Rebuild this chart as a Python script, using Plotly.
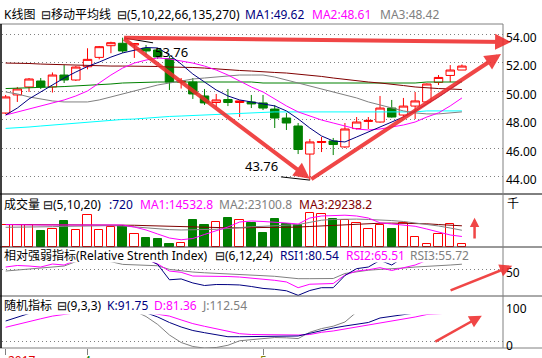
import plotly.graph_objects as go

W, H = 542, 358

# ---------------- data ----------------
bar_index = list(range(40))
open_price = [48.47, 49.74, 50.30, 50.72, 50.30, 51.14, 50.79, 51.72, 52.38, 53.20,
              53.37, 53.25, 53.02, 52.90, 52.30, 50.65, 50.65, 49.67, 49.21, 49.42,
              49.21, 49.25, 49.18, 48.75, 48.12, 47.56, 45.59, 46.40, 46.51, 46.09,
              47.38, 47.88, 47.84, 48.82, 48.33, 48.96, 49.25, 50.62, 51.11, 51.49]
high_price = [49.74, 50.30, 50.93, 50.93, 51.32, 51.84, 51.77, 53.02, 53.18, 53.48,
              53.76, 53.39, 53.25, 53.04, 52.48, 50.93, 50.93, 50.16, 49.81, 50.16,
              49.35, 49.74, 49.74, 49.03, 48.47, 47.77, 46.65, 46.79, 46.72, 47.77,
              48.19, 48.19, 49.67, 49.39, 49.53, 49.95, 50.55, 51.14, 51.84, 51.88]
low_price = [48.40, 49.25, 49.95, 50.16, 49.91, 50.58, 50.72, 51.54, 52.24, 52.67,
             52.69, 52.34, 52.55, 52.27, 50.09, 50.19, 49.46, 49.04, 48.89, 48.96,
             48.19, 48.82, 48.68, 47.42, 47.28, 45.59, 43.76, 45.73, 45.52, 46.02,
             47.31, 47.35, 47.80, 48.15, 48.16, 48.05, 49.22, 50.44, 50.65, 51.49]
close_price = [49.60, 50.16, 50.86, 50.30, 51.14, 50.79, 51.70, 52.24, 53.13, 53.41,
               52.83, 53.35, 52.83, 52.41, 50.65, 50.72, 49.81, 49.18, 49.39, 49.21,
               49.32, 49.11, 48.82, 48.12, 47.77, 45.91, 46.44, 46.47, 46.26, 47.35,
               47.84, 47.95, 48.82, 48.19, 48.96, 49.32, 50.51, 50.97, 51.49, 51.77]

ma5 = [48.33, 48.82, 49.46, 49.95, 50.44, 50.93, 51.35, 51.74, 52.05, 52.40,
       52.69, 52.90, 53.07, 53.04, 52.55, 51.91, 51.21, 50.65, 50.09, 49.67,
       49.39, 49.25, 49.11, 48.97, 48.62, 48.06, 47.42, 46.86, 46.51, 46.44,
       46.79, 47.14, 47.49, 47.84, 48.19, 48.62, 49.11, 49.60, 50.16, 50.72]
ma10 = [48.33, 48.55, 48.76, 48.97, 49.18, 49.39, 49.67, 50.02, 50.58, 51.14,
        51.63, 51.98, 52.19, 52.34, 52.27, 52.12, 51.98, 51.77, 51.49, 51.14,
        50.72, 50.30, 49.95, 49.46, 48.97, 48.55, 48.26, 47.98, 47.77, 47.56,
        47.35, 47.28, 47.35, 47.49, 47.63, 47.84, 48.19, 48.48, 48.97, 49.53]
ma22 = [49.95, 49.81, 49.60, 49.46, 49.32, 49.25, 49.25, 49.25, 49.39, 49.60,
        49.81, 50.02, 50.23, 50.44, 50.58, 50.72, 50.86, 50.93, 51.00, 51.07,
        51.14, 51.14, 51.14, 51.00, 50.79, 50.58, 50.37, 50.16, 49.95, 49.74,
        49.53, 49.25, 49.04, 48.83, 48.62, 48.48, 48.41, 48.41, 48.48, 48.55]
ma66 = [51.98, 51.98, 51.95, 51.91, 51.88, 51.84, 51.84, 51.81, 51.77, 51.77,
        51.77, 51.77, 51.74, 51.74, 51.70, 51.70, 51.67, 51.63, 51.56, 51.49,
        51.46, 51.42, 51.35, 51.32, 51.28, 51.21, 51.14, 51.04, 50.93, 50.83,
        50.72, 50.65, 50.58, 50.51, 50.40, 50.30, 50.23, 50.19, 50.16, 50.12]
ma135 = [50.19, 50.23, 50.23, 50.26, 50.30, 50.33, 50.37, 50.40, 50.44, 50.51,
         50.58, 50.62, 50.65, 50.65, 50.65, 50.65, 50.65, 50.65, 50.65, 50.65,
         50.65, 50.65, 50.58, 50.58, 50.58, 50.58, 50.58, 50.58, 50.58, 50.58,
         50.58, 50.58, 50.58, 50.58, 50.58, 50.58, 50.65, 50.65, 50.65, 50.65]
ma270 = [47.39, 47.42, 47.49, 47.56, 47.63, 47.70, 47.77, 47.84, 47.91, 47.98,
         48.02, 48.05, 48.12, 48.19, 48.23, 48.26, 48.30, 48.33, 48.37, 48.41,
         48.44, 48.48, 48.51, 48.55, 48.55, 48.55, 48.55, 48.55, 48.55, 48.55,
         48.55, 48.55, 48.55, 48.55, 48.55, 48.55, 48.62, 48.62, 48.62, 48.62]

volume = [30900, 30400, 30000, 21400, 25200, 35700, 23700, 44300, 23700, 27200,
          29500, 18100, 12800, 10500, 4700, 6000, 37100, 30000, 34300, 40400,
          36700, 33400, 19000, 38100, 32400, 30000, 47600, 45300, 38100, 36700,
          33400, 25200, 30900, 25200, 33400, 14200, 3700, 18600, 32400, 3700]
vol_ma5 = [30900, 30400, 30400, 30400, 30400, 30400, 30400, 30900, 30900, 30900,
           30400, 27600, 23500, 17900, 12400, 10000, 11700, 17300, 22100, 27600,
           34500, 35900, 35200, 34500, 33100, 31700, 40000, 42800, 43500, 43900,
           42800, 40000, 33400, 31700, 30400, 28600, 24800, 20700, 16600, 14533]
vol_ma10 = [27200, 27200, 27500, 27500, 28000, 28500, 29000, 29500, 29500, 29500,
            29000, 27500, 26000, 25000, 24000, 23500, 23500, 24000, 24500, 25500,
            27000, 28000, 28500, 29000, 30000, 31000, 34000, 37000, 38000, 38500,
            38500, 38000, 37500, 36500, 35200, 33400, 30900, 29000, 26200, 23101]
vol_ma20 = [31000, 31000, 31000, 31000, 31000, 30800, 30700, 30600, 30500, 30400,
            30200, 30000, 29500, 29000, 28500, 27800, 27200, 26800, 26500, 26500,
            26500, 26500, 26500, 26700, 27000, 27500, 28300, 29200, 30200, 31000,
            31800, 32400, 32800, 33000, 33000, 32800, 32000, 31000, 30100, 29238]

rsi1 = [70, 72, 74, 70, 72, 68, 72, 76, 78, 78, 72, 70, 62, 55.4, 38.6, 39.5, 35.1, 32.3,
        33.4, 33.3, 32.9, 31.2, 29.1, 28.1, 26.5, 21.5, 26.8, 29.9, 29.9, 43.3, 50.8,
        52.6, 60, 54.8, 65, 72, 80, 82, 83, 80.54]
rsi2 = [52.6, 54.3, 53.7, 52.6, 55.9, 54.8, 60, 63, 66, 67, 65, 64, 61, 55.9, 48.2, 46.8,
        42.7, 42.7, 42.7, 42.2, 41.6, 40.5, 39.5, 38.0, 36.2, 29.9, 33.7, 34.0, 34.5,
        43.8, 48.2, 49.6, 51.9, 48.8, 51.5, 54.8, 60, 63, 64, 65.51]
rsi3 = [48.2, 49.3, 51.0, 52.1, 53.2, 53.7, 58.5, 59.5, 59.5, 58.5, 55.5, 55, 55, 54,
        50, 48.2, 47.1, 46.3, 45.5, 44.9, 44.4, 43.6, 43.1, 42.4, 41.1, 39.8, 39.8,
        39.8, 40, 45.5, 47.7, 49.1, 50, 50.4, 51.5, 52.6, 53.2, 53.7, 54.8, 55.72]

kdj_k = [57.3, 66.9, 78, 80, 85, 82, 85, 88, 90, 92, 88, 85, 80, 68.3, 53.2, 40.8, 31.1,
         25.1, 20.1, 14, 14, 14.6, 16, 16.8, 16.5, 16, 23.4, 31.1, 38, 43.5, 48.5,
         53.2, 65.6, 71.1, 76.6, 80, 84, 88, 90, 91.75]
kdj_d = [39.9, 48.2, 55.6, 63.4, 70.8, 76, 80, 82, 84, 85, 86, 85, 82, 76, 70.8, 60.3,
         50.1, 42.7, 35.3, 28.4, 22.3, 20.1, 19.3, 18.7, 18.7, 18.7, 20.1, 26.2, 29.8,
         35.3, 40.2, 45.5, 50.4, 55.9, 61.4, 68.3, 75.2, 77, 79, 81.36]
kdj_j = [92, 95, 100, 100, 105, 100, 100, 105, 105, 108, 95, 85, 69.7, 47.7, 18.7, -1.9,
         -12.9, -17.4, -15.7, -9.6, 2.8, 6.3, 9.4, 11.8, 11, 8.8, 26.4, 36.4, 43, 54.5,
         82, 85, 90, 98, 100, 103, 105, 110, 112, 112.54]

price_ticks = [54, 52, 50, 48, 46, 44]
date_tick_index = [0, 7, 22]
date_tick_text = ["2017", "4", "5"]
date_tick_color = ["#e00000", "#008000", "#808000"]

high_value, high_index = 53.76, 10
low_value, low_index = 43.76, 26

# hand-drawn red arrows: (tail x, tail y, head x, head y) in axis units
arrows_main = [(10, 53.76, 43.2, 53.46), (10, 53.76, 26, 43.85), (26, 43.76, 42.34, 52.62)]
arrow_volume = (40.08, 9660, 40.08, 40400)
arrow_rsi = (37.9, 26.3, 43.3, 54.0)
arrow_kdj = (36.6, -1.9, 40.7, 72.0)

# ---------------- geometry ----------------
X_RANGE = [-0.31, 42.51]
XDOM = [2 / W, 503 / W]
PANELS = {  # top px, bottom px, value at bottom, value at top
    "y": (24, 194, 42.785, 54.723),
    "y2": (194, 247, 0, 73140),
    "y3": (262.5, 296, 20.77, 57.58),
    "y4": (314.5, 348, -17.08, 75.2),
}


def dom(name):
    top, bot, _, _ = PANELS[name]
    return [1 - bot / H, 1 - top / H]


def paper_y(name, v):
    top, bot, lo, hi = PANELS[name]
    ypx = bot - (v - lo) / (hi - lo) * (bot - top)
    return 1 - ypx / H


FONT = "Noto Sans, Noto Sans CJK SC, sans-serif"
NAVY, MAG, GRAY, MAROON, GREEN, CYAN = "#000080", "#ff00ff", "#808080", "#800000", "#008000", "#00ffff"
ARROW_RED = "rgba(238,45,45,0.88)"

fig = go.Figure()

fig.add_trace(go.Candlestick(
    x=bar_index, open=open_price, high=high_price, low=low_price, close=close_price,
    increasing=dict(line=dict(color="#ff0000", width=1), fillcolor="#ffffff"),
    decreasing=dict(line=dict(color=GREEN, width=1), fillcolor=GREEN),
    whiskerwidth=0, xaxis="x", yaxis="y", hoverinfo="skip"))

for series, col in [(ma270, CYAN), (ma135, GREEN), (ma66, MAROON), (ma22, GRAY), (ma10, MAG), (ma5, NAVY)]:
    fig.add_trace(go.Scatter(x=bar_index, y=series, mode="lines", line=dict(color=col, width=1),
                             xaxis="x", yaxis="y", hoverinfo="skip"))

up = [c >= o for o, c in zip(open_price, close_price)]
fig.add_trace(go.Bar(
    x=bar_index, y=volume, width=0.72,
    marker=dict(color=["#ffffff" if u else GREEN for u in up],
                line=dict(color=["#ff0000" if u else GREEN for u in up], width=1)),
    xaxis="x2", yaxis="y2", hoverinfo="skip"))
for series, col in [(vol_ma20, MAROON), (vol_ma10, GRAY), (vol_ma5, MAG)]:
    fig.add_trace(go.Scatter(x=bar_index, y=series, mode="lines", line=dict(color=col, width=1),
                             xaxis="x2", yaxis="y2", hoverinfo="skip"))

for series, col in [(rsi3, GRAY), (rsi2, MAG), (rsi1, NAVY)]:
    fig.add_trace(go.Scatter(x=bar_index, y=series, mode="lines", line=dict(color=col, width=1),
                             xaxis="x3", yaxis="y3", hoverinfo="skip"))

for series, col in [(kdj_j, GRAY), (kdj_d, MAG), (kdj_k, NAVY)]:
    fig.add_trace(go.Scatter(x=bar_index, y=series, mode="lines", line=dict(color=col, width=1),
                             xaxis="x4", yaxis="y4", hoverinfo="skip"))

ann = []


def text(t, xpx, ypx, color="#000000", size=12, anchor="left"):
    ann.append(dict(text=t, x=xpx / W, y=1 - ypx / H, xref="paper", yref="paper",
                    xanchor=anchor, yanchor="middle", showarrow=False,
                    font=dict(family=FONT, size=size, color=color)))


# panel headers
for t, xp, c in [("K线图", 2, "#000"), ("⊟移动平均线", 39, "#000"), ("⊟(5,10,22,66,135,270)", 115, "#000"),
                 ("MA1:49.62", 243, NAVY), ("MA2:48.61", 310, MAG), ("MA3:48.42", 378, GRAY)]:
    text(t, xp, 14, c)
for t, xp, c in [("成交量", 2, "#000"), ("⊟(5,10,20)", 41, "#000"), (":720", 107, NAVY),
                 ("MA1:14532.8", 137.6, MAG), ("MA2:23100.8", 217, GRAY), ("MA3:29238.2", 297, MAROON)]:
    text(t, xp, 204.5, c)
for t, xp, c in [("相对强弱指标(Relative Strenth Index)", 2, "#000"), ("⊟(6,12,24)", 212.5, "#000"),
                 ("RSI1:80.54", 278, NAVY), ("RSI2:65.51", 344, MAG), ("RSI3:55.72", 408, GRAY)]:
    text(t, xp, 255.6, c)
for t, xp, c in [("随机指标", 2, "#000"), ("⊟(9,3,3)", 55, "#000"), ("K:91.75", 105, NAVY),
                 ("D:81.36", 152, MAG), ("J:112.54", 200, GRAY)]:
    text(t, xp, 305.6, c)

# right-hand axis labels (slightly below their grid lines, as in the original)
for v in price_ticks:
    ann.append(dict(text=f"{v:.2f}", x=504 / W, y=paper_y("y", v), xref="paper", yref="paper",
                    xanchor="left", yanchor="middle", yshift=-3, showarrow=False,
                    font=dict(family=FONT, size=12, color="#000")))
text("千", 505, 203.5)
for v, name in [(50, "y3"), (100, "y4"), (0, "y4")]:
    ann.append(dict(text=str(v), x=504 / W, y=paper_y(name, v), xref="paper", yref="paper",
                    xanchor="left", yanchor="middle", yshift=-3.5, showarrow=False,
                    font=dict(family=FONT, size=12, color="#000")))

# date labels (cut off at the bottom edge)
for i, t, c in zip(date_tick_index, date_tick_text, date_tick_color):
    ann.append(dict(text=t, x=i, xref="x4", y=1 - 360 / H, yref="paper",
                    xanchor="left" if t == "2017" else "center", yanchor="middle",
                    showarrow=False, font=dict(family=FONT, size=12, color=c)))

# high / low markers
ann.append(dict(x=12.6, y=53.40, ax=high_index, ay=high_value, xref="x", yref="y", axref="x", ayref="y",
                text="", showarrow=True, arrowhead=0, arrowwidth=1, arrowcolor="#000"))
ann.append(dict(text=f"{high_value:.2f}", x=12.6, y=52.79, xref="x", yref="y", xanchor="left",
                yanchor="middle", showarrow=False, font=dict(family=FONT, size=13, color="#000")))
ann.append(dict(x=low_index, y=low_value, ax=23.4, ay=44.0, xref="x", yref="y", axref="x", ayref="y",
                text="", showarrow=True, arrowhead=0, arrowwidth=1, arrowcolor="#000"))
ann.append(dict(text=f"{low_value:.2f}", x=23.45, y=44.72, xref="x", yref="y", xanchor="right",
                yanchor="middle", showarrow=False, font=dict(family=FONT, size=13, color="#000")))

# red arrows


def arrow(a, xr, yr, width, size):
    ax_, ay_, hx, hy = a
    ann.append(dict(x=hx, y=hy, ax=ax_, ay=ay_, xref=xr, yref=yr, axref=xr, ayref=yr,
                    text="", showarrow=True, arrowhead=2, arrowsize=size, arrowwidth=width,
                    arrowcolor=ARROW_RED, standoff=0, startstandoff=0, font=dict(size=1)))


for a in arrows_main:
    arrow(a, "x", "y", 4, 0.8)
arrow(arrow_volume, "x2", "y2", 2.5, 0.75)
arrow(arrow_rsi, "x3", "y3", 2.5, 1.0)
arrow(arrow_kdj, "x4", "y4", 2.5, 1.0)

# panel borders
shapes = []


def hline(ypx, x0, x1, color, w=1):
    shapes.append(dict(type="line", xref="paper", yref="paper", x0=x0 / W, x1=x1 / W,
                       y0=1 - ypx / H, y1=1 - ypx / H, line=dict(color=color, width=w)))


def vline(xpx, y0, y1, color, w=1):
    shapes.append(dict(type="line", xref="paper", yref="paper", x0=xpx / W, x1=xpx / W,
                       y0=1 - y0 / H, y1=1 - y1 / H, line=dict(color=color, width=w)))


hline(24, 0, 503, GRAY)
hline(194, 0, W, "#000")
hline(247, 0, W, "#333")
hline(296, 0, W, "#555")
hline(348, 0, W, GRAY)
vline(503, 24, 348, GRAY)
vline(1, 24, 348, "#000", 1.5)

axis_common = dict(range=X_RANGE, domain=XDOM, showgrid=False, zeroline=False,
                   showticklabels=False, ticks="", fixedrange=True)
grid = dict(showgrid=True, gridcolor="#808080", gridwidth=1, griddash="1px,3px",
            zeroline=False, showticklabels=False, ticks="", fixedrange=True)

fig.update_layout(
    width=W, height=H, margin=dict(l=0, r=0, t=0, b=0),
    paper_bgcolor="#ffffff", plot_bgcolor="#ffffff", showlegend=False,
    boxgap=0.28, boxgroupgap=0, bargap=0,
    xaxis=dict(**axis_common, anchor="y", rangeslider=dict(visible=False)),
    xaxis2=dict(**axis_common, anchor="y2", matches="x"),
    xaxis3=dict(**axis_common, anchor="y3", matches="x"),
    xaxis4=dict(range=X_RANGE, domain=XDOM, showgrid=False, zeroline=False, showticklabels=False,
                ticks="outside", ticklen=6, tickcolor=GRAY, tickwidth=1, tickvals=date_tick_index,
                anchor="y4", matches="x", fixedrange=True),
    yaxis=dict(**grid, domain=dom("y"), range=[PANELS["y"][2], PANELS["y"][3]], tickvals=price_ticks, anchor="x"),
    yaxis2=dict(domain=dom("y2"), range=[PANELS["y2"][2], PANELS["y2"][3]], showgrid=False, zeroline=False,
                showticklabels=False, anchor="x2", fixedrange=True),
    yaxis3=dict(**grid, domain=dom("y3"), range=[PANELS["y3"][2], PANELS["y3"][3]], tickvals=[50], anchor="x3"),
    yaxis4=dict(**grid, domain=dom("y4"), range=[PANELS["y4"][2], PANELS["y4"][3]], tickvals=[0], anchor="x4"),
    annotations=ann, shapes=shapes,
)

fig.write_html("out.html", config={"displayModeBar": False},
               post_script="document.body.style.margin='0';document.body.style.padding='0';"
                           "document.body.style.overflow='hidden';")
